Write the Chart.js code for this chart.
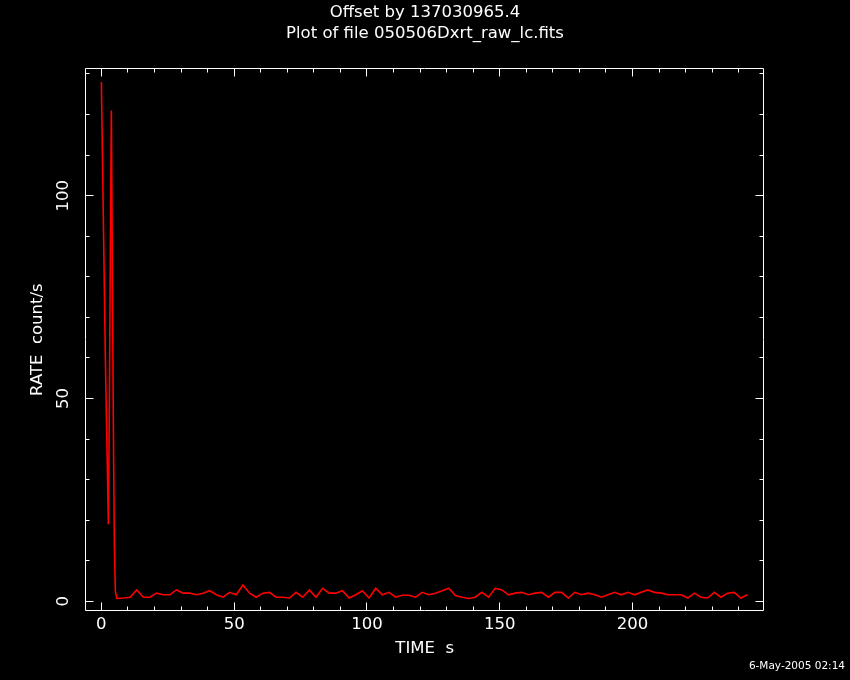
<!DOCTYPE html>
<html>
<head>
<meta charset="utf-8">
<script src="https://cdn.jsdelivr.net/npm/chart.js@4.4.1/dist/chart.umd.min.js"></script>
<style>
  html, body { margin: 0; padding: 0; background: #000; }
  canvas { display: block; }
</style>
</head>
<body>
<canvas id="lc" width="850" height="680"></canvas>
<script>
// fine time bins at the start (s), then 2.5 s frames
const headTime = [0, 0.38, 0.75, 1.13, 1.5, 1.88, 2.26, 2.63, 3.01, 3.39, 3.76, 4.14, 4.52, 4.89, 5.27];
const headRate = [128, 111, 94, 77, 60, 46, 33, 19, 48, 87, 121, 82, 43, 14, 2.5];

const tailTime = [
  5.8, 8.3, 10.8, 13.3, 15.8, 18.3, 20.8, 23.3, 25.8, 28.3,
  30.8, 33.3, 35.8, 38.3, 40.8, 43.3, 45.8, 48.3, 50.8, 53.3,
  55.8, 58.3, 60.8, 63.3, 65.8, 68.3, 70.8, 73.3, 75.8, 78.3,
  80.8, 83.3, 85.8, 88.3, 90.8, 93.3, 95.8, 98.3, 100.8, 103.3,
  105.8, 108.3, 110.8, 113.3, 115.8, 118.3, 120.8, 123.3, 125.8, 128.3,
  130.8, 133.3, 135.8, 138.3, 140.8, 143.3, 145.8, 148.3, 150.8, 153.3,
  155.8, 158.3, 160.8, 163.3, 165.8, 168.3, 170.8, 173.3, 175.8, 178.3,
  180.8, 183.3, 185.8, 188.3, 190.8, 193.3, 195.8, 198.3, 200.8, 203.3,
  205.8, 208.3, 210.8, 213.3, 215.8, 218.3, 220.8, 223.3, 225.8, 228.3,
  230.8, 233.3, 235.8, 238.3, 240.8, 243.3
];
const tailRate = [
  0.7, 0.8, 1.0, 2.8, 1.0, 1.0, 2.0, 1.6, 1.6, 2.8,
  2.0, 2.0, 1.6, 2.0, 2.6, 1.6, 1.0, 2.2, 1.6, 4.0,
  2.0, 1.0, 2.0, 2.2, 1.0, 1.0, 0.8, 2.2, 1.0, 2.8,
  1.0, 3.2, 2.0, 2.0, 2.6, 0.8, 1.6, 2.6, 0.8, 3.2,
  1.6, 2.2, 1.0, 1.5, 1.5, 1.0, 2.2, 1.6, 2.0, 2.6,
  3.2, 1.4, 1.0, 0.7, 1.0, 2.2, 1.0, 3.2, 2.8, 1.6,
  2.0, 2.2, 1.6, 2.0, 2.2, 1.0, 2.2, 2.2, 0.8, 2.2,
  1.6, 2.0, 1.6, 1.0, 1.6, 2.2, 1.6, 2.2, 1.6, 2.2,
  2.8, 2.2, 2.0, 1.6, 1.6, 1.6, 0.8, 2.0, 1.0, 0.8,
  2.2, 1.0, 2.0, 2.2, 0.8, 1.6
];

const xMajor = [0, 50, 100, 150, 200];
const yMajor = [0, 50, 100];

const points = [];
headTime.forEach((t, i) => points.push({ x: t, y: headRate[i] }));
tailTime.forEach((t, i) => points.push({ x: t, y: tailRate[i] }));

Chart.defaults.font.family = "'DejaVu Sans', sans-serif";
Chart.defaults.color = "#fff";

// box round the plot with inward ticks on all four sides
const frame = {
  id: "frame",
  afterDatasetsDraw(chart) {
    const { ctx, chartArea: a, scales: { x, y } } = chart;
    const L = Math.floor(a.left) + 0.5, R = Math.floor(a.right) + 0.5;
    const T = Math.floor(a.top) + 0.5, B = Math.floor(a.bottom) + 0.5;
    ctx.save();
    ctx.strokeStyle = "#fff";
    ctx.lineWidth = 1;
    ctx.beginPath();
    ctx.rect(L, T, R - L, B - T);
    for (let v = 0; v <= x.max; v += 10) {
      const px = Math.floor(x.getPixelForValue(v)) + 0.5;
      const len = xMajor.includes(v) ? 8 : 4;
      ctx.moveTo(px, B); ctx.lineTo(px, B - len);
      ctx.moveTo(px, T); ctx.lineTo(px, T + len);
    }
    for (let v = 0; v <= y.max; v += 10) {
      const py = Math.floor(y.getPixelForValue(v)) + 0.5;
      const len = yMajor.includes(v) ? 8 : 4;
      ctx.moveTo(L, py); ctx.lineTo(L + len, py);
      ctx.moveTo(R, py); ctx.lineTo(R - len, py);
    }
    ctx.stroke();
    ctx.restore();
  }
};

new Chart(document.getElementById("lc"), {
  type: "line",
  data: {
    datasets: [{
      data: points,
      borderColor: "#ff0000",
      borderWidth: 1.6,
      pointRadius: 0,
      tension: 0,
      fill: false
    }]
  },
  options: {
    responsive: false,
    animation: false,
    layout: { padding: { left: 5, right: 5, top: 0, bottom: 0 } },
    plugins: {
      legend: { display: false },
      tooltip: { enabled: false },
      title: {
        display: true,
        text: ["Offset by 137030965.4", "Plot of file 050506Dxrt_raw_lc.fits"],
        font: { size: 16.5, weight: "normal", lineHeight: 1.2727 },
        padding: { top: 2, bottom: 24.3 },
        color: "#fff"
      },
      subtitle: {
        display: true,
        position: "bottom",
        align: "end",
        text: "6-May-2005 02:14",
        font: { size: 10.5, weight: "normal", lineHeight: 1.2 },
        padding: { top: 0, bottom: 7.2 },
        color: "#fff"
      }
    },
    scales: {
      x: {
        type: "linear",
        min: -5.9,
        max: 249.4,
        grid: { display: false, drawTicks: false },
        border: { display: false },
        ticks: { stepSize: 50, includeBounds: false, padding: 4, maxRotation: 0, font: { size: 16.5 } },
        title: { display: true, text: "TIME  s", font: { size: 16.5 }, padding: { top: 0, bottom: 1.3 } },
        afterFit: (s) => { s.height = 680 - 19.8 - 611; }
      },
      y: {
        type: "linear",
        position: "left",
        min: -2.4,
        max: 131.4,
        grid: { display: false, drawTicks: false },
        border: { display: false },
        ticks: { stepSize: 50, includeBounds: false, padding: 6, minRotation: 90, maxRotation: 90, crossAlign: "center", font: { size: 16.5 } },
        title: { display: true, text: "RATE  count/s", font: { size: 16.5 }, padding: { top: 23.1, bottom: 0 } },
        afterFit: (s) => { s.width = 80.7; }
      },
      y2: {
        type: "linear",
        position: "right",
        display: true,
        grid: { display: false, drawTicks: false },
        border: { display: false },
        ticks: { display: false },
        afterFit: (s) => { s.width = 81.3; }
      }
    }
  },
  plugins: [frame]
});
</script>
</body>
</html>
